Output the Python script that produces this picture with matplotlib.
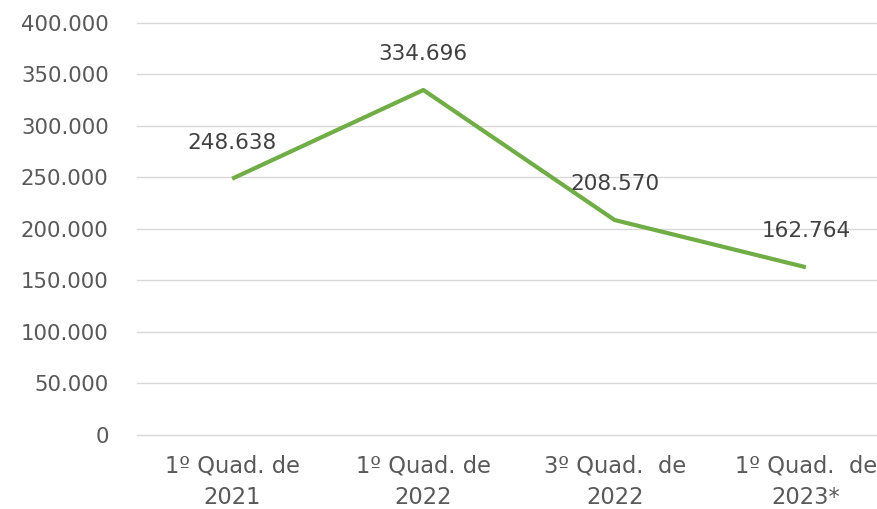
import matplotlib
matplotlib.use("Agg")
import matplotlib.pyplot as plt
from matplotlib.ticker import FuncFormatter

# ── data ─────────────────────────────────────────────────────────────────────
categories = ["1º Quad. de\n2021", "1º Quad. de\n2022",
              "3º Quad.  de\n2022", "1º Quad.  de\n2023*"]
values = [248638, 334696, 208570, 162764]
label_texts = ["248.638", "334.696", "208.570", "162.764"]
y_ticks = [0, 50000, 100000, 150000, 200000, 250000, 300000, 350000, 400000]

plt.rcParams['font.family'] = ['DejaVu Sans']

W, H = 877, 509
fig = plt.figure(figsize=(W / 100, H / 100), dpi=100)
left, right, bottom, top = 136.5, 901.5, 435, 22.7
ax = fig.add_axes([left / W, (H - bottom) / H, (right - left) / W, (bottom - top) / H])

x = list(range(len(categories)))
ax.plot(x, values, color='#70AD47', lw=3, solid_capstyle='butt', zorder=3)

for xi, v, t in zip(x, values, label_texts):
    ax.annotate(t, (xi, v), xytext=(0, 26), textcoords='offset points',
                ha='center', va='center', fontsize=15.5, color='#404040')

ax.set_xlim(-0.5, len(categories) - 0.5)
ax.set_ylim(0, 400000)
ax.set_yticks(y_ticks)
ax.yaxis.set_major_formatter(FuncFormatter(lambda v, p: f"{int(v):,}".replace(",", ".")))
ax.set_xticks(x)
ax.set_xticklabels(categories, linespacing=1.45)

ax.grid(axis='y', color='#d9d9d9', lw=1)
for gl in ax.get_ygridlines():
    gl.set_clip_on(False)
ax.set_axisbelow(True)
for s in ax.spines.values():
    s.set_visible(False)
ax.tick_params(axis='y', length=0, labelsize=15.3, colors='#595959', pad=20)
ax.tick_params(axis='x', length=0, labelsize=16.3, colors='#595959', pad=14)

fig.savefig("out.png", dpi=100)
